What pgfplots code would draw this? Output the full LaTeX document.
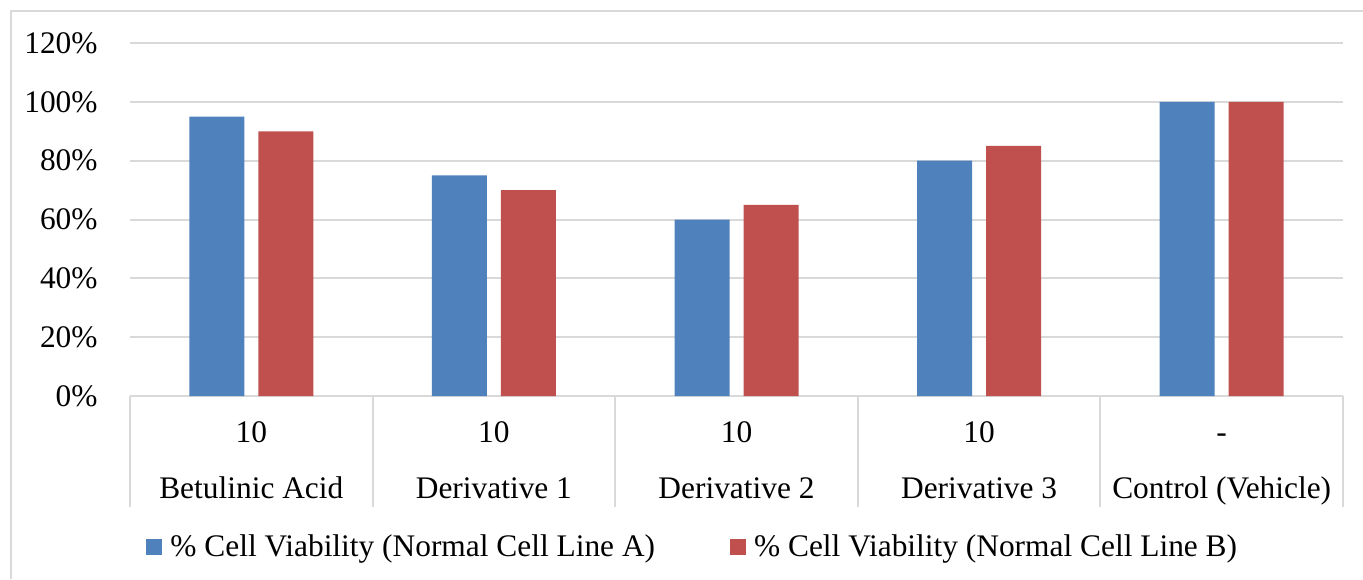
\documentclass[border=0pt]{standalone}
\usepackage{pgfplots}
\pgfplotsset{compat=1.18}
\usepackage{fontspec}
\setmainfont{Liberation Serif}
\definecolor{barA}{HTML}{4F81BD}
\definecolor{barB}{HTML}{C0504D}
\definecolor{gridc}{HTML}{D9D9D9}
\begin{document}
\begin{tikzpicture}
\useasboundingbox (0,0) rectangle (681.5pt,289.5pt);
\draw[gridc, line width=1pt] (5.5pt,0) -- (5.5pt,284pt) -- (681.5pt,284pt);
\begin{axis}[
    at={(65pt,91.5pt)}, anchor=south west,
    scale only axis, width=606.5pt, height=176.5pt,
    ybar=7pt, bar width=27.5pt,
    xmin=-0.5, xmax=4.5, ymin=0, ymax=120,
    clip=false,
    axis x line*=bottom, axis y line*=left,
    x axis line style={draw=gridc, line width=1pt, -},
    y axis line style={draw=none},
    xtick={0,...,4},
    xticklabels={{10\\Betulinic Acid},{10\\Derivative 1},{10\\Derivative 2},{10\\Derivative 3},{\vphantom{10}-\\Control (Vehicle)}},
    xticklabel style={align=center, anchor=north, inner sep=0pt, yshift=-12.5pt},
    ytick={0,20,...,120},
    yticklabels={0\%,20\%,40\%,60\%,80\%,100\%,120\%},
    yticklabel style={anchor=east, inner sep=0pt, xshift=-16pt},
    major tick length=0pt,
    ymajorgrids, grid style={draw=gridc, line width=1pt},
    tick label style={font=\fontsize{15.7}{28}\selectfont},
    legend columns=2,
    legend style={at={(axis description cs:0.0132,-0.4278)}, anchor=west,
        draw=none, fill=none, inner sep=0pt,
        font=\fontsize{15.7}{18}\selectfont,
        /tikz/every odd column/.append style={column sep=2pt},
        /tikz/every even column/.append style={column sep=35.5pt}},
    legend image code/.code={\fill[#1] (0pt,-4pt) rectangle (8pt,4pt);},
]
\addplot[fill=barA, draw=none] coordinates {(0,95) (1,75) (2,60) (3,80) (4,100)};
\addplot[fill=barB, draw=none] coordinates {(0,90) (1,70) (2,65) (3,85) (4,100)};
\legend{\% Cell Viability (Normal Cell Line A),\% Cell Viability (Normal Cell Line B)}
\pgfplotsinvokeforeach{-0.5,0.5,1.5,2.5,3.5,4.5}{
  \draw[gridc, line width=1pt] (axis cs:#1,0) -- ([yshift=-55.5pt]axis cs:#1,0);
}
\end{axis}
\end{tikzpicture}
\end{document}
